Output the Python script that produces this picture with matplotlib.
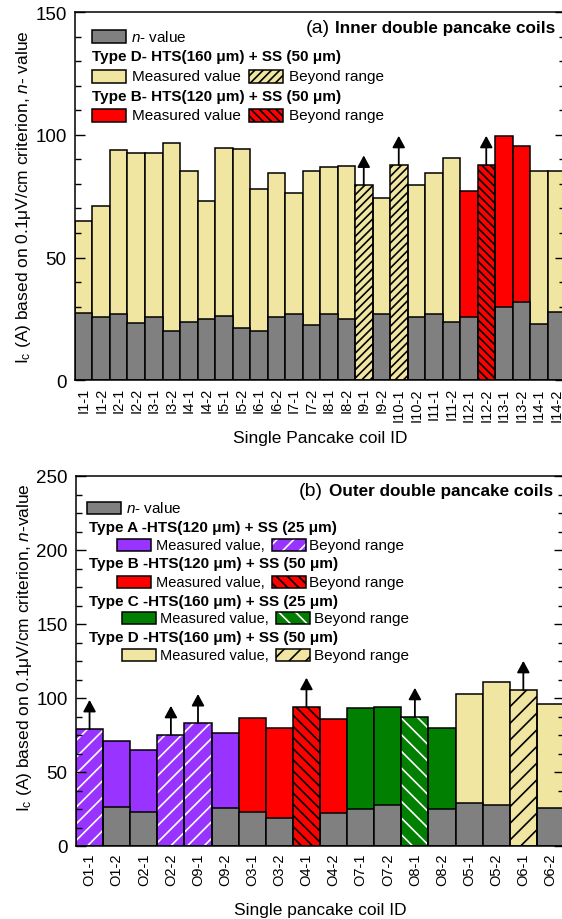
import numpy as np
import matplotlib
matplotlib.use('Agg')
import matplotlib.pyplot as plt
from matplotlib.patches import Rectangle
from matplotlib.ticker import MultipleLocator

plt.rcParams['font.family'] = ['Liberation Sans', 'DejaVu Sans']
plt.rcParams['mathtext.fontset'] = 'custom'
plt.rcParams['mathtext.rm'] = 'Liberation Sans'
plt.rcParams['mathtext.it'] = 'Liberation Sans:italic'
plt.rcParams['mathtext.bf'] = 'Liberation Sans:bold'
plt.rcParams['hatch.linewidth'] = 1.2

nan = np.nan

# (a) inner double pancake coils
inner_ids = ['I1-1', 'I1-2', 'I2-1', 'I2-2', 'I3-1', 'I3-2', 'I4-1', 'I4-2', 'I5-1', 'I5-2',
             'I6-1', 'I6-2', 'I7-1', 'I7-2', 'I8-1', 'I8-2', 'I9-1', 'I9-2', 'I10-1', 'I10-2',
             'I11-1', 'I11-2', 'I12-1', 'I12-2', 'I13-1', 'I13-2', 'I14-1', 'I14-2']
inner_ic = [65.0, 71.1, 93.8, 92.5, 92.4, 96.7, 85.2, 73.0, 94.5, 94.0,
            77.8, 84.5, 76.4, 85.3, 86.7, 87.1, 79.7, 74.4, 87.7, 79.5,
            84.5, 90.5, 77.1, 87.7, 99.3, 95.5, 85.1, 85.3]
inner_n = [27.3, 25.9, 26.9, 23.2, 25.9, 19.9, 23.9, 25.0, 26.3, 21.2,
           19.9, 25.6, 26.9, 22.7, 26.9, 25.0, nan, 26.9, nan, 25.9,
           26.9, 23.9, 25.9, nan, 29.7, 31.8, 22.9, 27.9]
inner_type = ['D'] * 22 + ['B'] * 4 + ['D'] * 2
inner_beyond = ['I9-1', 'I10-1', 'I12-2']

# (b) outer double pancake coils
outer_ids = ['O1-1', 'O1-2', 'O2-1', 'O2-2', 'O9-1', 'O9-2', 'O3-1', 'O3-2', 'O4-1',
             'O4-2', 'O7-1', 'O7-2', 'O8-1', 'O8-2', 'O5-1', 'O5-2', 'O6-1', 'O6-2']
outer_ic = [79.0, 71.0, 65.0, 75.0, 83.0, 76.6, 86.7, 79.7, 94.0,
            85.6, 93.0, 93.7, 87.2, 79.5, 103.0, 110.6, 105.4, 96.0]
outer_n = [nan, 26.6, 22.7, nan, nan, 26.0, 22.7, 18.7, nan,
           22.3, 25.0, 27.7, nan, 25.0, 28.8, 27.7, nan, 26.0]
outer_type = ['A'] * 6 + ['B'] * 4 + ['C'] * 4 + ['D'] * 4
outer_beyond = ['O1-1', 'O2-2', 'O9-1', 'O4-1', 'O8-1', 'O6-1']

gray = '#808080'
yellow = '#F0E6A2'
red = '#FF0000'
purple = '#9933FF'
green = '#007F00'

# fill colour, hatch, hatch colour
inner_styles = {'D': (yellow, '////', 'k'), 'B': (red, '\\\\\\\\', 'k')}
outer_styles = {'A': (purple, '//', 'w'), 'B': (red, '\\\\\\', 'k'),
                'C': (green, '\\\\', 'w'), 'D': (yellow, '//', 'k')}

W, H = 562, 920
fig = plt.figure(figsize=(W / 100, H / 100), dpi=100)
ax1 = fig.add_axes([75 / W, 1 - 381.3 / H, 490 / W, 368.3 / H])
ax2 = fig.add_axes([76 / W, 1 - 847 / H, 488 / W, 370 / H])


def draw_bars(ax, ids, ic, n, types, beyond, styles):
    for i, name in enumerate(ids):
        face, hatch, hcol = styles[types[i]]
        if name in beyond:
            ax.bar(i, ic[i], width=1, color=face, edgecolor=hcol, hatch=hatch, linewidth=0, zorder=1)
            ax.bar(i, ic[i], width=1, facecolor='none', edgecolor='k', linewidth=1.1, zorder=3)
            ax.annotate('', xy=(i, ic[i]), xytext=(0, 21), textcoords='offset points',
                        arrowprops=dict(arrowstyle='<|-,head_length=0.7,head_width=0.38',
                                        color='k', lw=1.3, shrinkA=0, shrinkB=0),
                        annotation_clip=False)
        else:
            ax.bar(i, ic[i], width=1, color=face, edgecolor='k', linewidth=1.1, zorder=1)
            ax.bar(i, n[i], width=1, color=gray, edgecolor='k', linewidth=1.1, zorder=2)
    ax.set_xlim(-0.5, len(ids) - 0.5)
    ax.set_xticks(np.arange(len(ids)), ids, rotation=90, fontsize=10.5)
    ax.tick_params(axis='x', length=0, pad=5)
    ax.yaxis.set_major_locator(MultipleLocator(50))
    ax.tick_params(axis='y', which='both', direction='in', right=True, labelsize=13.5, width=1, pad=6)
    ax.tick_params(axis='y', which='major', length=7)
    ax.tick_params(axis='y', which='minor', length=4.5)
    for s in ax.spines.values():
        s.set_linewidth(1.1)


draw_bars(ax1, inner_ids, inner_ic, inner_n, inner_type, inner_beyond, inner_styles)
ax1.set_ylim(0, 150)
ax1.yaxis.set_minor_locator(MultipleLocator(10))
ax1.set_xlabel('Single Pancake coil ID', fontsize=12.5, labelpad=7)
ax1.set_ylabel(r'I$_\mathregular{c}$ (A) based on 0.1$\mathregular{\mu}$V/cm criterion, $\mathit{n}$- value', fontsize=12.5)
ax1.yaxis.set_label_coords(-0.085, 0.5)

draw_bars(ax2, outer_ids, outer_ic, outer_n, outer_type, outer_beyond, outer_styles)
ax2.set_ylim(0, 250)
ax2.yaxis.set_minor_locator(MultipleLocator(12.5))
ax2.set_xlabel('Single pancake coil ID', fontsize=12.5, labelpad=12)
ax2.set_ylabel(r'I$_\mathregular{c}$ (A) based on 0.1$\mathregular{\mu}$V/cm criterion, $\mathit{n}$-value', fontsize=12.5)
ax2.yaxis.set_label_coords(-0.087, 0.54)

# panel titles
t1 = ax1.text(0.98, 0.957, 'Inner double pancake coils', transform=ax1.transAxes,
              ha='right', va='center', fontsize=12.3, weight='bold')
ax1.annotate('(a)', xy=(0, 0.5), xycoords=t1, xytext=(-4, 0), textcoords='offset points',
             ha='right', va='center', fontsize=14)
t2 = ax2.text(0.977, 0.96, 'Outer double pancake coils', transform=ax2.transAxes,
              ha='right', va='center', fontsize=12.3, weight='bold')
ax2.annotate('(b)', xy=(0, 0.5), xycoords=t2, xytext=(-4, 0), textcoords='offset points',
             ha='right', va='center', fontsize=14)


# hand made legends, positions in pixels
def box(x0, yc, face, hatch=None, hcol='k', w=34, h=13):
    xy = (x0 / W, 1 - (yc + h / 2) / H)
    if hatch:
        fig.add_artist(Rectangle(xy, w / W, h / H, transform=fig.transFigure, facecolor=face,
                                 edgecolor=hcol, hatch=hatch, linewidth=0))
        fig.add_artist(Rectangle(xy, w / W, h / H, transform=fig.transFigure, fill=False,
                                 edgecolor='k', linewidth=1.1))
    else:
        fig.add_artist(Rectangle(xy, w / W, h / H, transform=fig.transFigure, facecolor=face,
                                 edgecolor='k', linewidth=1.1))


def label(x0, yc, s, size=11, **kw):
    fig.text(x0 / W, 1 - yc / H, s, ha='left', va='center', fontsize=size, **kw)


nval = r'$\mathit{n}$- value'

box(92, 37, gray)
label(131, 37, nval)
label(92, 57, 'Type D- HTS(160 μm) + SS (50 μm)', weight='bold')
box(92, 77, yellow)
label(132, 77, 'Measured value')
box(249, 77, yellow, '////')
label(289, 77, 'Beyond range')
label(92, 97, 'Type B- HTS(120 μm) + SS (50 μm)', weight='bold')
box(92, 116, red)
label(132, 116, 'Measured value')
box(249, 116, red, '\\\\\\\\')
label(289, 116, 'Beyond range')

box(87, 509, gray, h=12)
label(126, 509, nval)
label(89, 528, 'Type A -HTS(120 μm) + SS (25 μm)', weight='bold')
box(117, 546, purple, h=12)
label(156, 546, 'Measured value,', 10.5)
box(272, 546, purple, '//', 'w', h=12)
label(309, 546, 'Beyond range')
label(89, 564, 'Type B -HTS(120 μm) + SS (50 μm)', weight='bold')
box(117, 583, red, h=12)
label(156, 583, 'Measured value,', 10.5)
box(272, 583, red, '\\\\\\', h=12)
label(309, 583, 'Beyond range')
label(89, 602, 'Type C -HTS(160 μm) + SS (25 μm)', weight='bold')
box(122, 619, green, h=12)
label(160, 619, 'Measured value,', 10.5)
box(276, 619, green, '\\\\', 'w', h=12)
label(314, 619, 'Beyond range')
label(89, 638, 'Type D -HTS(160 μm) + SS (50 μm)', weight='bold')
box(122, 656, yellow, h=12)
label(160, 656, 'Measured value,', 10.5)
box(276, 656, yellow, '//', h=12)
label(314, 656, 'Beyond range')

fig.savefig('out.png', dpi=100)
